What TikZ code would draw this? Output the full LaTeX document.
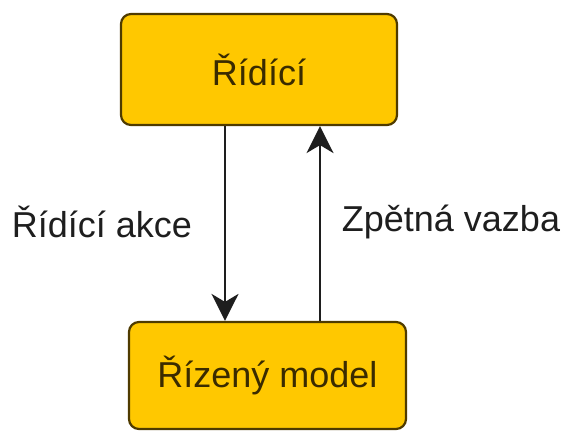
\documentclass[tikz,border=0pt]{standalone}
\usepackage{fontspec}
\setmainfont{Liberation Sans}
\usepackage{xcolor}
\usepackage{tikz}
\usetikzlibrary{arrows.meta}
\definecolor{boxfill}{HTML}{FFC800}
\definecolor{boxline}{HTML}{4F3B00}
\definecolor{boxtext}{HTML}{3A2B00}
\definecolor{lbltext}{HTML}{1E1E1E}
\tikzset{
  block/.style={draw=boxline, fill=boxfill, line width=2.2pt, rounded corners=10pt,
    text=boxtext, font=\fontsize{36}{40}\selectfont},
  lab/.style={text=lbltext, font=\fontsize{36}{40}\selectfont},
  flow/.style={line width=2pt, draw=lbltext, -{Stealth[length=27pt,width=27pt,inset=8pt]}}
}
\begin{document}
\begin{tikzpicture}[x=1pt,y=-1pt]
\useasboundingbox (0,0) rectangle (569,432);
\node[block, minimum width=276pt, minimum height=111pt] (ridici) at (259,69.5) {Řídící};
\node[block, minimum width=277pt, minimum height=107pt] (model) at (267.5,375.5) {Řízený model};
\coordinate (downx) at (225,0);
\coordinate (upx) at (320,0);
\draw[flow] (ridici.south -| downx) -- (model.north -| downx);
\draw[flow] (model.north -| upx) -- (ridici.south -| upx);
\node[lab] (akce) at (102,222) {Řídící akce};
\node[lab] (vazba) at (451,222) {Zpětná vazba};
\end{tikzpicture}
\end{document}
